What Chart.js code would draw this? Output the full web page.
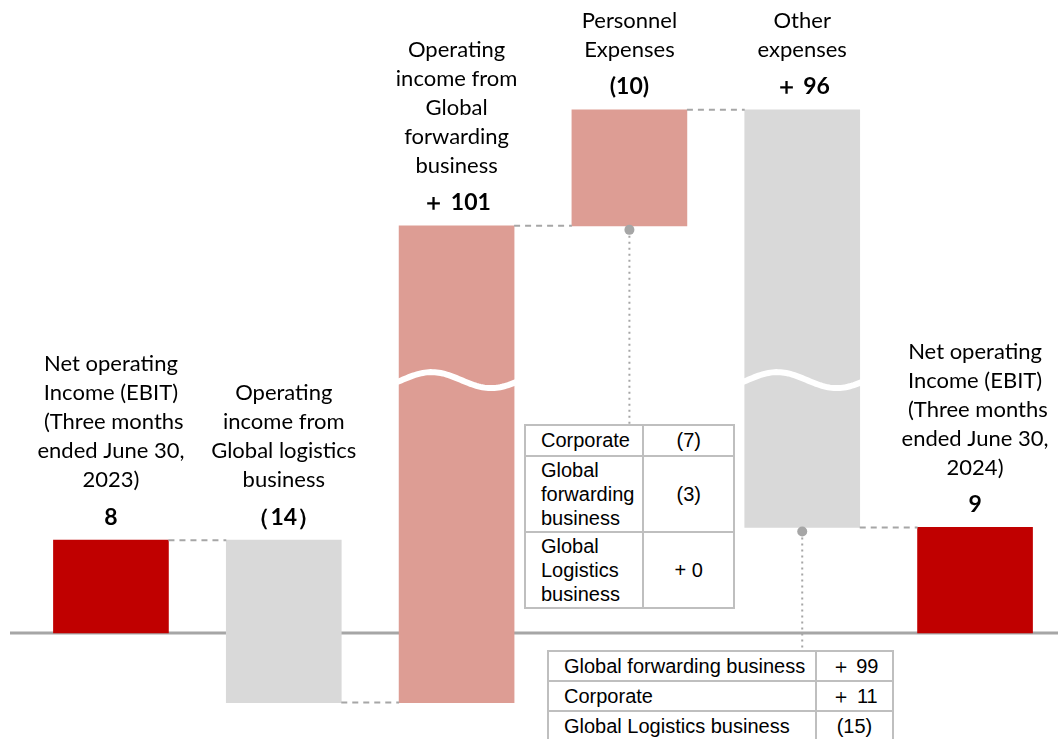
<!DOCTYPE html>
<html>
<head>
<meta charset="utf-8">
<script src="https://cdn.jsdelivr.net/npm/chart.js@4.4.1/dist/chart.umd.min.js"></script>
<style>
  html, body { margin: 0; padding: 0; background: #fff; overflow: hidden; }
  #wrap { position: relative; width: 1058px; height: 739px; overflow: hidden; }
  canvas { position: absolute; left: 0; top: 0; }
  table.detail {
    position: absolute;
    border-collapse: collapse;
    font-family: "Liberation Sans", Arial, sans-serif;
    font-size: 20px;
    line-height: 24px;
    color: #000;
    background: #fff;
  }
  table.detail td { border: 2px solid #bfbfbf; padding: 1px 8px 1px 15px; vertical-align: middle; }
  table.detail td.val { text-align: center; padding: 1px 4px; }
  #tblPersonnel tr:first-child td { padding-top: 2px; padding-bottom: 3px; }
  #tblOther td { padding-top: 2px; padding-bottom: 2px; }
</style>
</head>
<body>
<div id="wrap">
  <canvas id="chart" width="1058" height="739"></canvas>
  <table class="detail" id="tblPersonnel" style="left:524px; top:424px; width:211px;"></table>
  <table class="detail" id="tblOther" style="left:547px; top:650px; width:347px;"></table>
</div>
<script>
// Categories (multi-line labels above each bar)
const categoryLines = [
  ['Net operating', 'Income (EBIT)', ' (Three months', 'ended June 30,', '2023)'],
  ['Operating', 'income from', 'Global logistics', 'business'],
  ['Operating', 'income from', 'Global', 'forwarding', 'business'],
  ['Personnel', 'Expenses'],
  ['Other', 'expenses'],
  ['Net operating', 'Income (EBIT)', ' (Three months', 'ended June 30,', '2024)']
];
const valueLabels = ['8', '（14）', '＋ 101', '(10)', '＋ 96', '9'];

// Bar extents as drawn (the axis is broken inside bars 3 and 5)
const barStart = [0, 8, -6, 35.1, 45.1, 0];
const barEnd = [8, -6, 35.1, 45.1, 9.1, 9.1];
const barColors = ['#c00000', '#d9d9d9', '#dd9d94', '#dd9d94', '#d9d9d9', '#c00000'];
const breakBars = [2, 4];
const breakLevel = 21.8;

// Breakdown tables
const personnelRows = [
  ['Corporate', '(7)'],
  ['Global<br>forwarding<br>business', '(3)'],
  ['Global<br>Logistics<br>business', '+ 0']
];
const otherRows = [
  ['Global forwarding business', '＋ 99'],
  ['Corporate', '＋ 11'],
  ['Global Logistics business', '(15)']
];

function fillTable(id, rows, firstWidth) {
  const t = document.getElementById(id);
  t.innerHTML = rows.map((r, i) =>
    `<tr><td${i === 0 ? ` style="width:${firstWidth}px"` : ''}>${r[0]}</td><td class="val">${r[1]}</td></tr>`
  ).join('');
}
fillTable('tblPersonnel', personnelRows, 93);
fillTable('tblOther', otherRows, 243);

const GRID = '#a6a6a6';

const waterfallPlugin = {
  id: 'waterfall',
  beforeDatasetsDraw(chart) {
    const { ctx, scales: { y } } = chart;
    const y0 = y.getPixelForValue(0);
    ctx.save();
    ctx.strokeStyle = GRID;
    ctx.lineWidth = 3;
    ctx.beginPath();
    ctx.moveTo(10, y0);
    ctx.lineTo(chart.width, y0);
    ctx.stroke();
    ctx.restore();
  },
  afterDatasetsDraw(chart) {
    const { ctx, scales: { y } } = chart;
    const bars = chart.getDatasetMeta(0).data;
    ctx.save();

    // dashed connectors
    ctx.strokeStyle = GRID;
    ctx.lineWidth = 2;
    ctx.setLineDash([6, 5]);
    for (let i = 0; i < bars.length - 1; i++) {
      const py = y.getPixelForValue(barEnd[i]);
      ctx.beginPath();
      ctx.moveTo(bars[i].x + bars[i].width / 2, py);
      ctx.lineTo(bars[i + 1].x - bars[i + 1].width / 2, py);
      ctx.stroke();
    }
    ctx.setLineDash([]);

    // break waves
    ctx.strokeStyle = '#fff';
    ctx.lineWidth = 6;
    breakBars.forEach(i => {
      const b = bars[i];
      const L = b.x - b.width / 2 - 2;
      const W = b.width + 4;
      const c = y.getPixelForValue(breakLevel);
      ctx.beginPath();
      for (let s = 0; s <= 60; s++) {
        const t = s / 60;
        const px = L + W * t;
        const py = c - 8 * Math.sin(2 * Math.PI * t - 0.25);
        if (s === 0) ctx.moveTo(px, py); else ctx.lineTo(px, py);
      }
      ctx.stroke();
    });

    // dotted leaders to the breakdown tables
    const leaders = [[3, 424], [4, 650]];
    leaders.forEach(([i, yEnd]) => {
      const b = bars[i];
      const yb = Math.max(b.y, b.base) + 4;
      ctx.strokeStyle = GRID;
      ctx.lineWidth = 2;
      ctx.setLineDash([2, 4]);
      ctx.beginPath();
      ctx.moveTo(b.x, yb);
      ctx.lineTo(b.x, yEnd);
      ctx.stroke();
      ctx.setLineDash([]);
      ctx.fillStyle = GRID;
      ctx.beginPath();
      ctx.arc(b.x, yb, 5, 0, Math.PI * 2);
      ctx.fill();
    });

    // labels
    ctx.fillStyle = '#000';
    ctx.textAlign = 'center';
    ctx.textBaseline = 'middle';
    bars.forEach((b, i) => {
      const top = Math.min(b.y, b.base);
      const vy = top - 23;
      ctx.font = 'bold 23px Lato, "Noto Sans", sans-serif';
      ctx.fillText(valueLabels[i], b.x, vy);
      ctx.font = '22px Lato, "Noto Sans", sans-serif';
      const lines = categoryLines[i];
      lines.forEach((ln, k) => {
        ctx.fillText(ln, b.x, vy - 37 - (lines.length - 1 - k) * 29);
      });
    });
    ctx.restore();
  }
};

new Chart(document.getElementById('chart'), {
  type: 'bar',
  data: {
    datasets: [{
      data: barStart.map((s, i) => ({ x: i, y: [s, barEnd[i]] })),
      backgroundColor: barColors,
      borderWidth: 0,
      barThickness: 115
    }]
  },
  options: {
    responsive: false,
    animation: false,
    layout: { padding: 0 },
    plugins: { legend: { display: false }, tooltip: { enabled: false } },
    scales: {
      x: { type: 'linear', offset: false, min: -0.642, max: 5.48, display: false },
      y: { min: -9.14, max: 54.57, display: false }
    }
  },
  plugins: [waterfallPlugin]
});
</script>
</body>
</html>
